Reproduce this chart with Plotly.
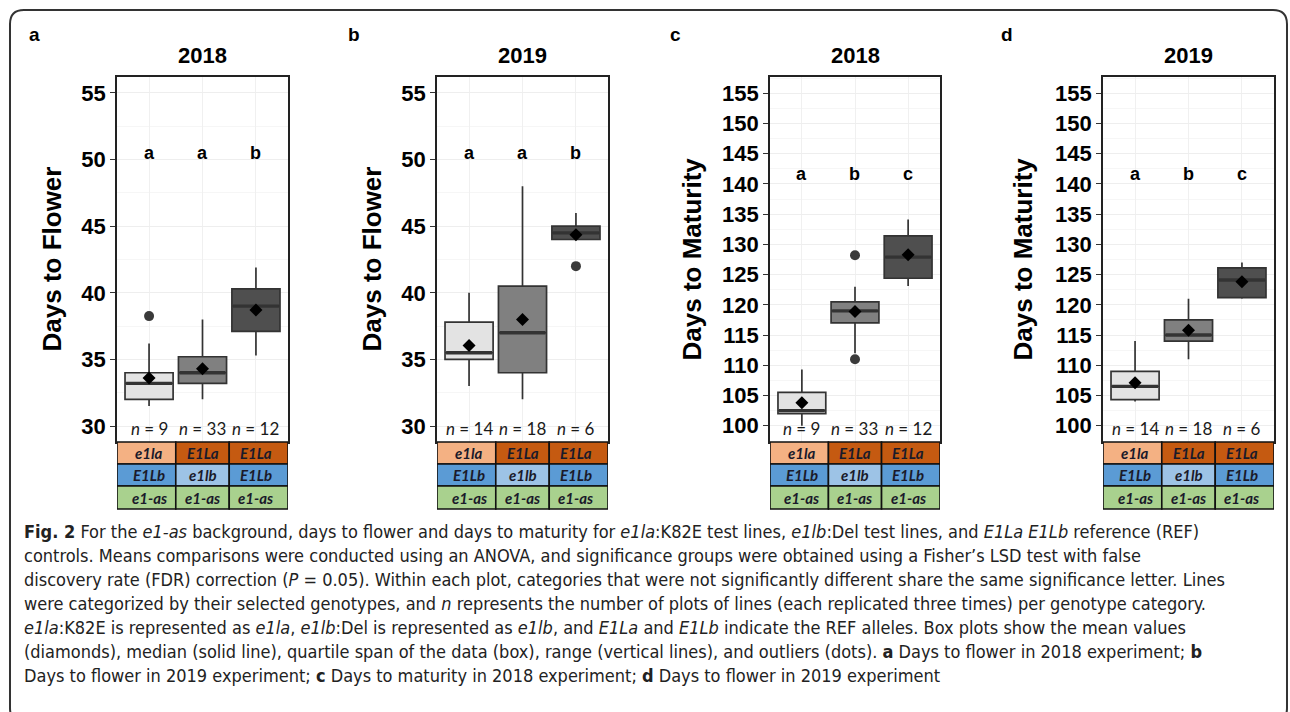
import plotly.graph_objects as go

W, H = 1290, 712

# ---------------- data ----------------
categories = ["e1la E1Lb", "E1La e1lb", "E1La E1Lb"]
row1_labels = ["e1la", "E1La", "E1La"]
row2_labels = ["E1Lb", "e1lb", "E1Lb"]
row3_labels = ["e1-as", "e1-as", "e1-as"]
row1_colors = ["#f4b183", "#c55a11", "#c55a11"]
row2_colors = ["#5b9bd5", "#9dc3e6", "#5b9bd5"]
row3_colors = ["#a9d18e", "#a9d18e", "#a9d18e"]
box_fills = ["#e3e3e3", "#808080", "#4f4f4f"]

panel_letters = ["a", "b", "c", "d"]
panel_years = ["2018", "2019", "2018", "2019"]
panel_ytitles = ["Days to Flower", "Days to Flower", "Days to Maturity", "Days to Maturity"]

flower_ticks = [30, 35, 40, 45, 50, 55]
maturity_ticks = [100, 105, 110, 115, 120, 125, 130, 135, 140, 145, 150, 155]

# panel a: days to flower 2018
a_q1 = [32.0, 33.2, 37.1]
a_median = [33.2, 34.0, 39.0]
a_q3 = [34.0, 35.2, 40.3]
a_low = [31.5, 32.0, 35.3]
a_high = [36.2, 38.0, 41.9]
a_mean = [33.6, 34.3, 38.7]
a_outliers = [[38.25], [], []]
a_n = [9, 33, 12]
a_groups = ["a", "a", "b"]

# panel b: days to flower 2019
b_q1 = [35.0, 34.0, 44.0]
b_median = [35.5, 37.0, 44.5]
b_q3 = [37.8, 40.5, 45.0]
b_low = [33.0, 32.0, 44.0]
b_high = [40.0, 48.0, 46.0]
b_mean = [36.05, 38.0, 44.35]
b_outliers = [[], [], [42.0]]
b_n = [14, 18, 6]
b_groups = ["a", "a", "b"]

# panel c: days to maturity 2018
c_q1 = [102.0, 117.0, 124.4]
c_median = [102.5, 119.0, 127.9]
c_q3 = [105.5, 120.5, 131.4]
c_low = [100.0, 112.0, 123.1]
c_high = [109.3, 123.0, 134.1]
c_mean = [103.8, 118.9, 128.3]
c_outliers = [[], [111.0, 128.2], []]
c_n = [9, 33, 12]
c_groups = ["a", "b", "c"]

# panel d: days to maturity 2019
d_q1 = [104.3, 114.0, 121.2]
d_median = [106.5, 115.0, 124.1]
d_q3 = [109.0, 117.5, 126.1]
d_low = [104.0, 111.0, 121.0]
d_high = [114.0, 121.0, 127.0]
d_mean = [107.1, 115.8, 123.8]
d_outliers = [[], [], []]
d_n = [14, 18, 6]
d_groups = ["a", "b", "c"]

caption_lines = [
    "<b>Fig. 2</b> For the <i>e1-as</i> background, days to flower and days to maturity for <i>e1la</i>:K82E test lines, <i>e1lb</i>:Del test lines, and <i>E1La E1Lb</i> reference (REF)",
    "controls. Means comparisons were conducted using an ANOVA, and significance groups were obtained using a Fisher\u2019s LSD test with false",
    "discovery rate (FDR) correction (<i>P</i> = 0.05). Within each plot, categories that were not significantly different share the same significance letter. Lines",
    "were categorized by their selected genotypes, and <i>n</i> represents the number of plots of lines (each replicated three times) per genotype category.",
    "<i>e1la</i>:K82E is represented as <i>e1la</i>, <i>e1lb</i>:Del is represented as <i>e1lb</i>, and <i>E1La</i> and <i>E1Lb</i> indicate the REF alleles. Box plots show the mean values",
    "(diamonds), median (solid line), quartile span of the data (box), range (vertical lines), and outliers (dots). <b>a</b> Days to flower in 2018 experiment; <b>b</b>",
    "Days to flower in 2019 experiment; <b>c</b> Days to maturity in 2018 experiment; <b>d</b> Days to flower in 2019 experiment",
]

# ---------------- layout helpers ----------------
def px_x(v):
    return v / W

def px_y(v):
    return 1 - v / H

panel_px_x = [(117, 288), (437, 608), (770, 940), (1103, 1274)]
plot_top, plot_bottom = 77, 442
table_rows_px = [(442, 464), (464, 486), (486, 509)]
ytitle_px_x = [52, 372, 692, 1023]
letter_px_x = [34, 354, 675, 1007]

panels = [
    (a_q1, a_median, a_q3, a_low, a_high, a_mean, a_outliers, a_n, a_groups, 50.5, flower_ticks, [28.8, 56.2]),
    (b_q1, b_median, b_q3, b_low, b_high, b_mean, b_outliers, b_n, b_groups, 50.5, flower_ticks, [28.8, 56.2]),
    (c_q1, c_median, c_q3, c_low, c_high, c_mean, c_outliers, c_n, c_groups, 141.7, maturity_ticks, [97.3, 157.7]),
    (d_q1, d_median, d_q3, d_low, d_high, d_mean, d_outliers, d_n, d_groups, 141.7, maturity_ticks, [97.3, 157.7]),
]

fig = go.Figure()
annotations = []
shapes = []
layout_axes = {}

ARIAL = "Liberation Sans, Arial, Helvetica, sans-serif"
CALIBRI = "Lato, Open Sans, sans-serif"
TICK_FONT = dict(family=ARIAL, size=22, color="#000000", weight="bold")
BOX_W = 0.9
positions = [i + 1 for i in range(len(categories))]


def ann(**kw):
    d = dict(showarrow=False, xanchor="center", yanchor="middle")
    d.update(kw)
    annotations.append(d)


for p, (q1, med, q3, lo, hi, mean, outl, ns, groups, group_y, ticks, yr) in enumerate(panels):
    k = p + 1
    xs = "x" if k == 1 else f"x{k}"
    ys = "y" if k == 1 else f"y{k}"
    xname = "xaxis" if k == 1 else f"xaxis{k}"
    yname = "yaxis" if k == 1 else f"yaxis{k}"

    for i, pos in enumerate(positions):
        fig.add_trace(go.Box(
            x=[pos], q1=[q1[i]], median=[med[i]], q3=[q3[i]],
            lowerfence=[lo[i]], upperfence=[hi[i]],
            width=BOX_W, whiskerwidth=0, boxpoints=False,
            fillcolor=box_fills[i], line=dict(color="#333333", width=1.7),
            xaxis=xs, yaxis=ys, showlegend=False, hoverinfo="skip",
        ))
        # thicker median line (ggplot style)
        fig.add_trace(go.Scatter(
            x=[pos - BOX_W / 2 + 0.02, pos + BOX_W / 2 - 0.02], y=[med[i], med[i]],
            mode="lines", line=dict(color="#333333", width=3.4),
            xaxis=xs, yaxis=ys, showlegend=False, hoverinfo="skip",
        ))
        if outl[i]:
            fig.add_trace(go.Scatter(
                x=[pos] * len(outl[i]), y=outl[i], mode="markers",
                marker=dict(symbol="circle", size=10, color="#3a3a3a"),
                xaxis=xs, yaxis=ys, showlegend=False, hoverinfo="skip",
            ))
    fig.add_trace(go.Scatter(
        x=positions, y=mean, mode="markers",
        marker=dict(symbol="diamond", size=10, color="#000000"),
        xaxis=xs, yaxis=ys, showlegend=False, hoverinfo="skip",
    ))

    x0, x1 = panel_px_x[p]
    step = ticks[1] - ticks[0]
    layout_axes[xname] = dict(
        domain=[px_x(x0), px_x(x1)], range=[0.4, 3.6], anchor=ys,
        tickvals=positions, showticklabels=False, ticks="",
        showgrid=True, gridcolor="#f0f0f0", gridwidth=1, zeroline=False,
        showline=True, mirror=True, linecolor="#222222", linewidth=1.6,
        fixedrange=True,
    )
    layout_axes[yname] = dict(
        domain=[px_y(plot_bottom), px_y(plot_top)], range=yr, anchor=xs,
        tickvals=ticks, ticks="outside", ticklen=5, tickwidth=1.2, tickcolor="#333333",
        tickfont=TICK_FONT, showgrid=True, gridcolor="#eeeeee", gridwidth=1,
        minor=dict(tickvals=[t + step / 2 for t in ticks], showgrid=True,
                   gridcolor="#f6f6f6", ticks=""),
        zeroline=False, showline=True, mirror=True, linecolor="#222222", linewidth=1.6,
        fixedrange=True,
    )

    # panel letter
    ann(text=f"<b>{panel_letters[p]}</b>", x=px_x(letter_px_x[p]), y=px_y(35),
        xref="paper", yref="paper", font=dict(family=ARIAL, size=19, color="#000"))
    # year title
    ann(text=f"<b>{panel_years[p]}</b>", x=px_x((x0 + x1) / 2), y=px_y(55),
        xref="paper", yref="paper", font=dict(family=ARIAL, size=22, color="#000"))
    # y title
    ann(text=f"<b>{panel_ytitles[p]}</b>", x=px_x(ytitle_px_x[p]),
        y=px_y((plot_top + plot_bottom) / 2), textangle=-90,
        xref="paper", yref="paper", font=dict(family=ARIAL, size=26, color="#000"))
    for i, pos in enumerate(positions):
        # significance letters
        ann(text=f"<b>{groups[i]}</b>", x=pos, y=group_y, xref=xs, yref=ys,
            font=dict(family=ARIAL, size=18, color="#000"))
        # n labels
        ann(text=f"<i>n</i> = {ns[i]}", x=pos, y=0.036, xref=xs, yref=f"{ys} domain",
            font=dict(family=CALIBRI, size=17, color="#1a1a1a"))
        # genotype table
        cx0 = 0.4 if i == 0 else pos - 0.5
        cx1 = 3.6 if i == len(positions) - 1 else pos + 0.5
        for (r0, r1), lab, col in zip(table_rows_px,
                                      [row1_labels[i], row2_labels[i], row3_labels[i]],
                                      [row1_colors[i], row2_colors[i], row3_colors[i]]):
            shapes.append(dict(type="rect", xref=xs, yref="paper", x0=cx0, x1=cx1,
                               y0=px_y(r1), y1=px_y(r0), fillcolor=col,
                               line=dict(color="#111111", width=1.6), layer="above"))
            ann(text=f"<b><i>{lab}</i></b>", x=pos, y=px_y((r0 + r1) / 2),
                xref=xs, yref="paper", font=dict(family=CALIBRI, size=15, color="#1a1a2a"))

# caption
caption_y0, caption_dy = 531, 24
for j, line in enumerate(caption_lines):
    ann(text=line, x=px_x(22), y=px_y(caption_y0 + j * caption_dy),
        xref="paper", yref="paper", xanchor="left",
        font=dict(family="Liberation Sans Narrow, DejaVu Sans Condensed, sans-serif",
                  size=18, color="#222222"))

# outer rounded frame
fx0, fy0, fx1, fy1, r = 10, 10, 1287, 722, 14
def P(xp, yp):
    return f"{px_x(xp):.5f},{px_y(yp):.5f}"
path = (f"M {P(fx0 + r, fy0)} L {P(fx1 - r, fy0)} Q {P(fx1, fy0)} {P(fx1, fy0 + r)} "
        f"L {P(fx1, fy1 - r)} Q {P(fx1, fy1)} {P(fx1 - r, fy1)} L {P(fx0 + r, fy1)} "
        f"Q {P(fx0, fy1)} {P(fx0, fy1 - r)} L {P(fx0, fy0 + r)} Q {P(fx0, fy0)} {P(fx0 + r, fy0)} Z")
shapes.append(dict(type="path", xref="paper", yref="paper", path=path,
                   line=dict(color="#333333", width=2)))

fig.update_layout(
    width=W, height=H, margin=dict(l=0, r=0, t=0, b=0),
    paper_bgcolor="white", plot_bgcolor="white",
    annotations=annotations, shapes=shapes, showlegend=False,
    **layout_axes,
)

fig.write_html("out.html", config={"displayModeBar": False})
